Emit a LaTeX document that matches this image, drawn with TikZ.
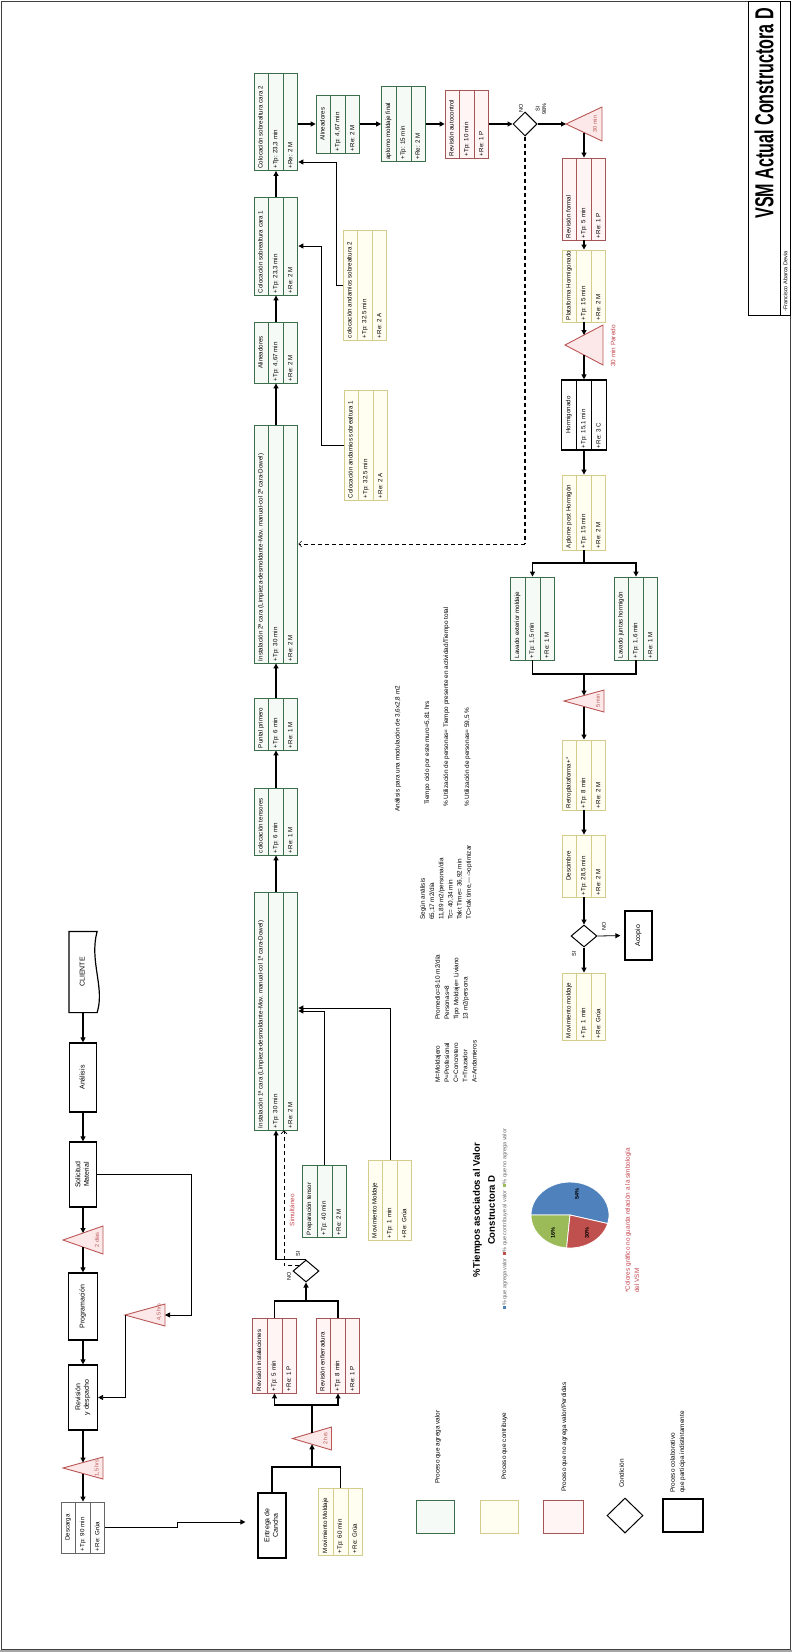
\documentclass[tikz,border=0pt]{standalone}
\usepackage{fontspec}
\setmainfont{Liberation Sans}
\usepackage{graphicx}
\usetikzlibrary{arrows.meta, positioning, calc, shapes.geometric, shapes.multipart}
\definecolor{vgreen}{RGB}{60,110,75}
\definecolor{vgreenf}{RGB}{245,250,246}
\definecolor{vyellow}{RGB}{212,204,140}
\definecolor{vyellowf}{RGB}{255,254,240}
\definecolor{vred}{RGB}{165,85,85}
\definecolor{vredf}{RGB}{255,245,245}
\definecolor{tred}{RGB}{185,85,85}
\definecolor{tredf}{RGB}{252,232,232}
\definecolor{txred}{RGB}{195,65,75}
\definecolor{pieblue}{RGB}{79,129,189}
\definecolor{piered}{RGB}{192,80,77}
\definecolor{piegreen}{RGB}{155,187,89}
\newcommand{\vsmfnt}{\fontsize{6.2}{7.4}\selectfont}
\newcommand{\boxfnt}{\fontsize{7}{8.4}\selectfont}
\newcommand{\notefnt}{\fontsize{6.4}{9.2}\selectfont}
\newcommand{\smallfnt}{\fontsize{5.5}{6.6}\selectfont}
% three rotated rows of a process box: [title align]{length}{title}{Tp}{Re}
\newcommand{\vsmtxt}[5][l]{%
  \rotatebox{90}{\makebox[#2pt][#1]{\strut #3}}%
  \nodepart{two}\rotatebox{90}{\makebox[#2pt][l]{\strut #4}}%
  \nodepart{three}\rotatebox{90}{\makebox[#2pt][l]{\strut #5}}}
\newcommand{\rt}[1]{\rotatebox{90}{\begin{tabular}{@{}c@{}}#1\end{tabular}}}

\begin{document}
\begin{tikzpicture}[x=1pt, y=-1pt,
    flow/.style={-{Triangle[length=5pt,width=5pt]}, line width=1.1pt},
    feed/.style={-{Triangle[length=5pt,width=5pt]}, line width=0.8pt},
    back/.style={-{Straight Barb[length=3pt,width=6pt]}, line width=0.6pt, dash pattern=on 4pt off 3pt},
    vsm/.style={rectangle split, rectangle split horizontal, rectangle split parts=3,
      draw, line width=0.9pt, inner xsep=3.3pt, inner ysep=2pt, font=\vsmfnt},
    vsmg/.style={vsm, draw=vgreen, fill=vgreenf},
    vsmy/.style={vsm, draw=vyellow, fill=vyellowf},
    vsmr/.style={vsm, draw=vred, fill=vredf},
    vsmk/.style={vsm, draw=black, line width=1.2pt, fill=white},
    vsmw/.style={vsm, draw=black!60, line width=0.8pt, fill=white},
    plainbox/.style={draw, line width=1.2pt, fill=white, inner sep=0pt, font=\boxfnt},
    cond/.style={diamond, draw, line width=1pt, fill=white, inner sep=0pt},
    inv/.style={inner sep=0pt, outer sep=0pt},
    invshape/.style={draw=tred, fill=tredf, line width=0.9pt},
    invlbl/.style={rotate=90, font=\smallfnt, text=tred, inner sep=0pt},
    lbl/.style={rotate=90, font=\smallfnt, inner sep=0pt},
    note/.style={rotate=90, font=\notefnt, align=left, inner sep=0pt}]

  \useasboundingbox (0,0) rectangle (792,1652);

  % --- frame and title block ---
  \fill[black!35] (0,1649.5) rectangle (792,1652);
  \draw[line width=1pt, black!75] (1.5,1.5) rectangle (790.5,1649);
  \draw[line width=1pt] (748,1.5) rectangle (790.5,315);
  \draw[line width=0.6pt] (780,1.5) -- (780,315);
  \node[rotate=90, anchor=east, inner sep=0pt] (titulo) at (764,8)
    {\scalebox{0.62}[1]{\fontsize{26}{28}\selectfont\bfseries VSM Actual Constructora D}};
  \node[rotate=90, anchor=west, font=\smallfnt, inner sep=0pt] (autor) at (785.5,312)
    {-Francisco Abarca Devia};

  % --- client / planning column ---
  \node[plainbox, draw=none, minimum width=27pt, minimum height=80pt] (cliente) at (83,972) {};
  \draw[line width=1.2pt, fill=white] (cliente.north west) -- (cliente.north east)
    .. controls ($(cliente.north east)+(-8,30)$) and ($(cliente.south east)+(8,-25)$) .. (cliente.south east)
    -- (cliente.south west) -- cycle;
  \node[font=\boxfnt] at (cliente.center) {\rt{CLIENTE}};
  \node[plainbox, minimum width=27pt, minimum height=69pt] (analisis) at (83,1077.5) {\rt{Análisis}};
  \node[plainbox, minimum width=27pt, minimum height=65pt] (solic) at (83,1174.5) {\rt{Solicitud\\Material}};
  \node[plainbox, minimum width=29pt, minimum height=67pt] (prog) at (83,1306.5) {\rt{Programación}};
  \node[plainbox, minimum width=29pt, minimum height=65pt] (revdesp) at (83,1397.5) {\rt{Revisión\\y despacho}};
  \node[vsmw] (descarga) at (83,1527.5) {\vsmtxt[c]{47}{Descarga}{+Tp: 90 min}{+Re: Grúa}};

  \node[inv, minimum width=40pt, minimum height=28pt] (t1) at (83,1240) {};
  \node[inv, minimum width=40pt, minimum height=22pt] (t2) at (145,1315) {};
  \node[inv, minimum width=40pt, minimum height=22pt] (t3) at (83,1468) {};
  \draw[invshape] (t1.west) -- (t1.north east) -- (t1.south east) -- cycle;
  \draw[invshape] (t2.west) -- (t2.north east) -- (t2.south east) -- cycle;
  \draw[invshape] (t3.west) -- (t3.north east) -- (t3.south east) -- cycle;
  \node[invlbl] (t1l) at ($(t1.east)+(-6,0)$) {2 días};
  \node[invlbl] (t2l) at ($(t2.east)+(-6,-3)$) {4,5 hrs};
  \node[invlbl] (t3l) at ($(t3.east)+(-6,0)$) {1,5 hrs};

  \draw[flow] (cliente.south) -- (analisis.north);
  \draw[flow] (analisis.south) -- (solic.north);
  \draw[flow] (solic.south) -- ($(t1.west)!.5!(t1.north east)$);
  \draw[flow] ($(t1.west)!.5!(t1.south east)$) -- (prog.north);
  \draw[flow] (prog.south) -- (revdesp.north);
  \draw[flow] (revdesp.south) -- ($(t3.west)!.5!(t3.north east)$);
  \draw[flow] ($(t3.west)!.5!(t3.south east)$) -- (descarga.north);
  \draw[feed] (solic.east) -- ++(94,0) |- (t2.east);
  \draw[feed] (t2.west) |- (revdesp.east);

  % --- delivery and checks ---
  \node[plainbox, minimum width=28pt, minimum height=65pt] (entrega) at (272,1525.5) {\rt{Entrega de\\Cancha}};
  \node[vsmy] (movm0) at (340.5,1521.5) {\vsmtxt{63}{Movimiento Moldaje}{+Tp: 60 min}{+Re: Grúa}};
  \node[inv, minimum width=39pt, minimum height=23pt] (t4) at (312,1438.5) {};
  \draw[invshape] (t4.west) -- (t4.north east) -- (t4.south east) -- cycle;
  \node[invlbl] (t4l) at ($(t4.east)+(-6,0)$) {2 hrs};
  \node[vsmr] (revinst) at (274.5,1355.5) {\vsmtxt{71}{Revisión instalaciones}{+Tp: 5 min}{+Re: 1 P}};
  \node[vsmr] (revenf) at (338,1355.5) {\vsmtxt{71}{Revisión enfierradura}{+Tp: 8 min}{+Re: 1 P}};
  \node[cond, minimum width=26pt, minimum height=22pt] (d3) at (306,1271) {};
  \coordinate (j4) at (312,1467);
  \coordinate (j5) at (312,1405);
  \coordinate (j6) at (306,1301);

  \draw[feed, shorten >=12pt] (descarga.east) -- ++(72,0) |- ($(entrega.west)+(0,-3.5)$);
  \draw[line width=1.1pt] (entrega.north) |- (j4) -| (movm0.north);
  \draw[flow] (j4) -- ($(t4.west)!.5!(t4.south east)$);
  \draw[line width=1.1pt] ($(t4.west)!.5!(t4.north east)$) -- (j5);
  \draw[flow] (j5) -| (revinst.south);
  \draw[flow] (j5) -| (revenf.south);
  \draw[line width=1.1pt] (revinst.north) |- (j6) -| (revenf.north);
  \draw[flow] (j6) -- (d3.south);
  \node[lbl] (d3si) at (298,1254) {SI};
  \node[lbl] (d3no) at (289,1276) {NO};

  % --- first face ---
  \node[vsmg] (inst1) at (276,1011) {\vsmtxt{234}{Instalación 1ª cara (Limpieza-desmoldante-Mov. manual-col 1ª cara-Dowel)}{+Tp: 30 min}{+Re: 2 M}};
  \node[vsmg] (prep) at (324.5,1201) {\vsmtxt{68}{Preparación tensor}{+Tp: 40 min}{+Re: 2 M}};
  \node[vsmy] (movm1) at (390,1200) {\vsmtxt{76}{Movimiento Moldaje}{+Tp: 1 min}{+Re: Grúa}};
  \draw[flow] (d3.north) -| (inst1.south);
  \draw[back] ($(d3.west)!.5!(d3.north)$) -| ($(inst1.south)+(8,0)$);
  \node[note, text=txred] (simul) at (292,1210) {Simultáneo};
  \draw[feed] (prep.north) |- (inst1.east);
  \draw[feed] (movm1.north) |- ($(inst1.east)+(0,-3)$);

  % --- upper row ---
  \node[vsmg] (tens) at (276,821.5) {\vsmtxt{63}{colocación tensores}{+Tp: 6 min}{+Re: 1 M}};
  \node[vsmg] (puntal) at (276,724) {\vsmtxt{48}{Puntal primero}{+Tp: 6 min}{+Re: 1 M}};
  \node[vsmg] (inst2) at (276,544) {\vsmtxt{234}{Instalación 2ª cara (Limpieza-desmoldante-Mov. manual-col 2ª cara-Dowel)}{+Tp: 30 min}{+Re: 2 M}};
  \node[vsmg] (alin1) at (276,352.5) {\vsmtxt[c]{57}{Alineadores}{+Tp: 4,67 min}{+Re: 2 M}};
  \node[vsmg] (sob1) at (276,246) {\vsmtxt{94}{Colocación sobrealtura cara 1}{+Tp: 23,3 min}{+Re: 2 M}};
  \node[vsmg] (sob2) at (276,122) {\vsmtxt{93}{Colocación sobrealtura cara 2}{+Tp: 23,3 min}{+Re: 2 M}};
  \node[vsmy] (and1) at (366,445) {\vsmtxt{106}{Colocación andamios sobrealtura 1}{+Tp: 32.5 min}{+Re: 2 A}};
  \node[vsmy] (and2) at (365,285) {\vsmtxt{106}{colocación andamios sobrealtura 2}{+Tp: 32.5 min}{+Re: 2 A}};

  \draw[flow] (inst1.north) -- (tens.south);
  \draw[flow] (tens.north) -- (puntal.south);
  \draw[flow] (puntal.north) -- (inst2.south);
  \draw[flow] (inst2.north) -- (alin1.south);
  \draw[flow] (alin1.north) -- (sob1.south);
  \draw[flow] (sob1.north) -- (sob2.south);
  \draw[feed] (and1.west) -- ++(-22,0) |- (sob1.east);
  \draw[feed] (and2.west) -- ++(-6,0) |- ($(sob2.east)+(0,40)$);

  % --- closing and control ---
  \node[vsmg] (alin2) at (338,124) {\vsmtxt[c]{54}{Alineadores}{+Tp: 4,67 min}{+Re: 2 M}};
  \node[vsmg] (aplomo) at (403.5,124) {\vsmtxt{71}{aplomo moldaje final}{+Tp: 15 min}{+Re: 2 M}};
  \node[vsmr] (revauto) at (467,124) {\vsmtxt{64}{Revisión autocontrol}{+Tp: 10 min}{+Re: 1 P}};
  \node[cond, minimum width=24pt, minimum height=24pt] (d1) at (525,124) {};
  \node[inv, minimum width=36pt, minimum height=34pt] (t5) at (584,124) {};
  \draw[invshape] (t5.west) -- (t5.north east) -- (t5.south east) -- cycle;
  \node[invlbl] (t5l) at ($(t5.east)+(-7,0)$) {30 min};
  \node[lbl] (d1no) at (521,108) {NO};
  \node[lbl, align=center] (d1si) at (541,109) {SI\\98\%};

  \draw[flow] (sob2.east |- alin2.west) -- (alin2.west);
  \draw[flow] (alin2.east) -- (aplomo.west);
  \draw[flow] (aplomo.east) -- (revauto.west);
  \draw[flow] (revauto.east) -- (d1.west);
  \draw[flow] (d1.east) -- (t5.west);
  \draw[line width=1.3pt, dash pattern=on 4pt off 3pt] (d1.south) -- (d1.south |- inst2.east);
  \draw[back] (d1.south |- inst2.east) -- (inst2.east);

  % --- concrete column ---
  \node[vsmr] (revform) at (584,199) {\vsmtxt{78}{Revisión formal}{+Tp: 5 min}{+Re: 1 P}};
  \node[vsmy] (plat) at (584,286) {\vsmtxt{68}{Plataforma Hormigonado}{+Tp: 15 min}{+Re: 2 M}};
  \node[inv, minimum width=38pt, minimum height=40pt] (t6) at (584,345) {};
  \draw[invshape] (t6.west) -- (t6.north east) -- (t6.south east) -- cycle;
  \node[note, text=txred] (t6l) at (613,346) {30 min Paredo};
  \node[vsmk] (horm) at (584,415) {\vsmtxt[c]{66}{Hormigonado}{+Tp: 15,1 min}{+Re: 3 C}};
  \node[vsmy] (aplome) at (584,512.5) {\vsmtxt{71}{Aplome post Hormigón}{+Tp: 15 min}{+Re: 2 M}};
  \node[vsmg] (lavext) at (532.5,618.5) {\vsmtxt{79}{Lavado exterior moldaje}{+Tp: 1,5 min}{+Re: 1 M}};
  \node[vsmg] (lavjun) at (636,618.5) {\vsmtxt{79}{Lavado juntas hormigón}{+Tp: 1,6 min}{+Re: 1 M}};
  \node[inv, minimum width=40pt, minimum height=22pt] (t7) at (584,701) {};
  \draw[invshape] (t7.west) -- (t7.north east) -- (t7.south east) -- cycle;
  \node[invlbl] (t7l) at ($(t7.east)+(-6,0)$) {5 min};
  \node[vsmy] (retro) at (584,775) {\vsmtxt{66}{Retroplataforma+°}{+Tp: 8 min}{+Re: 2 M}};
  \node[vsmy] (desc) at (584,866) {\vsmtxt[c]{58}{Descimbre}{+Tp: 28,5 min}{+Re: 2 M}};
  \node[cond, minimum width=26pt, minimum height=22pt] (d2) at (584,936) {};
  \node[plainbox, minimum width=27pt, minimum height=49pt] (acopio) at (638.5,935.5) {\rt{Acopio}};
  \node[vsmy] (movm2) at (584,1006.5) {\vsmtxt{63}{Movimiento moldaje}{+Tp: 1 min}{+Re: Grúa}};
  \node[lbl] (d2no) at (604,926) {NO};
  \node[lbl] (d2si) at (574,954) {SI};
  \coordinate (j7) at (584,563);
  \coordinate (j8) at (584,674);

  \draw[flow] ($(t5.west)!.5!(t5.south east)$) -- (revform.north);
  \draw[flow] (revform.south) -- (plat.north);
  \draw[flow] (plat.south) -- ($(t6.west)!.5!(t6.north east)$);
  \draw[flow] ($(t6.west)!.5!(t6.south east)$) -- (horm.north);
  \draw[flow] (horm.south) -- (aplome.north);
  \draw[line width=1.1pt] (aplome.south) -- (j7);
  \draw[flow] (j7) -| (lavext.north);
  \draw[flow] (j7) -| (lavjun.north);
  \draw[line width=1.1pt] (lavext.south) |- (j8) -| (lavjun.south);
  \draw[flow] (j8) -- ($(t7.west)!.5!(t7.north east)$);
  \draw[flow] ($(t7.west)!.5!(t7.south east)$) -- (retro.north);
  \draw[flow] (retro.south) -- (desc.north);
  \draw[flow] (desc.south) -- (d2.north);
  \draw[feed, shorten >=4pt] (d2.east) -- (acopio.west);
  \draw[flow] (d2.south) -- (movm2.north);

  % --- notes ---
  \node[note, anchor=west] (n1) at (398,812) {Análisis para una modulación de 3,6x2,8 m2};
  \node[note, anchor=west] (n2) at (427.5,805) {Tiempo ciclo por este muro=5,81 hrs};
  \node[note, anchor=west] (n3) at (446.5,807) {\% Utilización de personas= Tiempo presente en actividad/Tiempo total};
  \node[note, anchor=west] (n4) at (467.5,807) {\% Utilización de personas= 59,5 \%};
  \node[note, anchor=north west] (b1) at (420,920)
    {Según análisis\\65,17 m2/día\\11,89 m2/persona/día\\Tc= 40,34 min\\Takt Time= 36,92 min\\TC>tak time,{-}{-}{-}{-}>optimizar};
  \node[note, anchor=north west] (b2) at (435,1020)
    {Promedio=8-10 m2/día\\Personas=8\\Tipo Moldaje= Liviano\\13 m2/persona};
  \node[note, anchor=north west] (b3) at (435,1083)
    {M=Moldajero\\P=Profesional\\C=Concretero\\T=Trazador\\A=Andamieros};

  % --- value-added pie ---
  \node[rotate=90, align=center, inner sep=0pt, font=\fontsize{9.6}{15}\selectfont\bfseries] (pietit) at (484,1210)
    {\%Tiempos asociados al Valor\\Constructora D};
  \node[rotate=90, inner sep=0pt, font=\smallfnt, text=black!60] (pieleg) at (505,1219)
    {\textcolor{pieblue}{\rule{3pt}{3pt}}\% que agrega valor\ \ \textcolor{piered}{\rule{3pt}{3pt}}\% que contribuye al valor\ \ \textcolor{piegreen}{\rule{3pt}{3pt}}\% que no agrega valor};
  \coordinate (pie) at (570,1215);
  \filldraw[fill=pieblue, draw=white, line width=0.8pt] (pie) -- ++(-15:39pt and 33pt)
    arc[start angle=-15, end angle=180, x radius=39pt, y radius=33pt] -- cycle;
  \filldraw[fill=piegreen, draw=white, line width=0.8pt] (pie) -- ++(180:39pt and 33pt)
    arc[start angle=180, end angle=265, x radius=39pt, y radius=33pt] -- cycle;
  \filldraw[fill=piered, draw=white, line width=0.8pt] (pie) -- ++(265:39pt and 33pt)
    arc[start angle=265, end angle=345, x radius=39pt, y radius=33pt] -- cycle;
  \node[lbl, font=\smallfnt\bfseries] (p54) at (577,1194) {54\%};
  \node[lbl, font=\smallfnt\bfseries] (p16) at (553,1233) {16\%};
  \node[lbl, font=\smallfnt\bfseries] (p30) at (587,1233) {30\%};
  \node[note, anchor=north west, text=txred] (nota) at (625,1293)
    {*Colores gráfico no guarda relación a la simbología\\del VSM};

  % --- legend ---
  \node[draw=vgreen, fill=vgreenf, line width=1pt, minimum width=38pt, minimum height=33pt] (lg1) at (435,1516.5) {};
  \node[draw=vyellow, fill=vyellowf, line width=1pt, minimum width=38pt, minimum height=33pt] (lg2) at (499,1516.5) {};
  \node[draw=vred, fill=vredf, line width=1pt, minimum width=40pt, minimum height=33pt] (lg3) at (563,1516.5) {};
  \node[cond, minimum width=36pt, minimum height=35pt] (lg4) at (625,1515.5) {};
  \node[draw, line width=1.2pt, minimum width=40pt, minimum height=33pt] (lg5) at (683,1515.5) {};
  \node[note, anchor=west] (lg1l) at (438,1484) {Proceso que agrega valor};
  \node[note, anchor=west] (lg2l) at (504.5,1480) {Proceso que contribuye};
  \node[note, anchor=west] (lg3l) at (564.5,1492) {Proceso que no agrega valor/Perdidas};
  \node[note, anchor=west] (lg4l) at (621.5,1488) {Condición};
  \node[note, anchor=north west] (lg5l) at (670,1493) {Proceso colaborativo\\que participa indistintamente};

\end{tikzpicture}
\end{document}
